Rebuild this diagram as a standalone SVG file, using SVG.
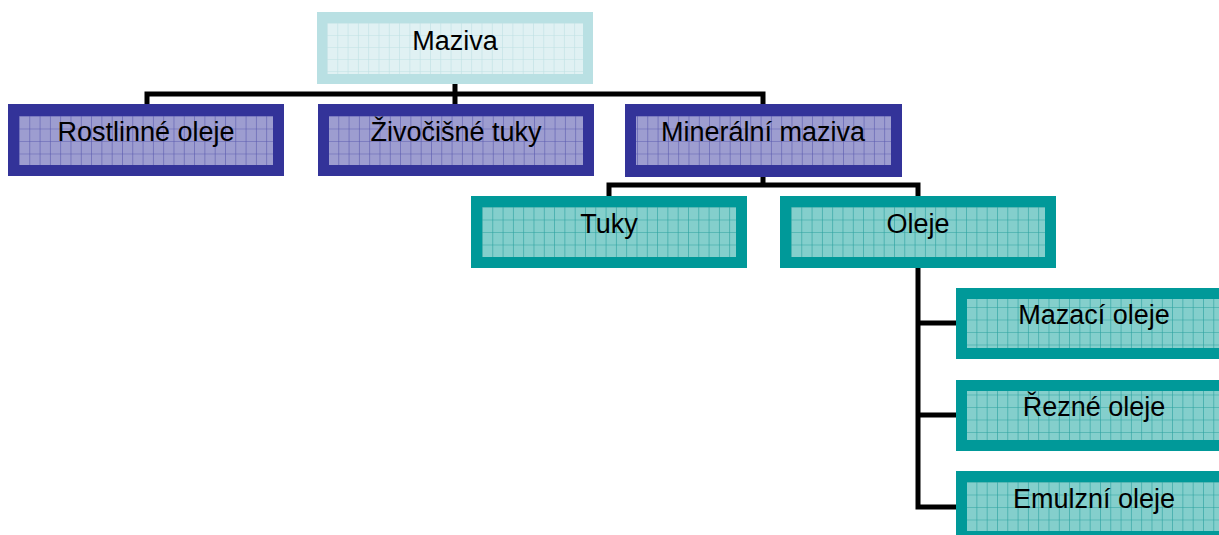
<svg xmlns="http://www.w3.org/2000/svg" width="1219" height="535" viewBox="0 0 1219 535">
  <defs>
    <!-- grid textures for the inner panels -->
    <pattern id="gridLight" patternUnits="userSpaceOnUse" width="10.3" height="12" x="327" y="23">
      <rect width="10.3" height="12" fill="#e0f1f3"/>
      <path d="M0 0V12M0 0H10.3" stroke="#bfe1e4" stroke-width="1.2" fill="none"/>
    </pattern>
    <pattern id="gridNavy" patternUnits="userSpaceOnUse" width="10.3" height="12.5" x="19" y="116">
      <rect width="10.3" height="12.5" fill="#9d9dd0"/>
      <path d="M0 0V12.5M0 0H10.3" stroke="#5b5bb0" stroke-width="1.2" fill="none"/>
    </pattern>
    <pattern id="gridTeal" patternUnits="userSpaceOnUse" width="10.3" height="12.5" x="482" y="207">
      <rect width="10.3" height="12.5" fill="#84cfcc"/>
      <path d="M0 0V12.5M0 0H10.3" stroke="#2aa19f" stroke-width="1.2" fill="none"/>
    </pattern>
  </defs>
  <style>
    .lbl { font-family: "Liberation Sans", Arial, sans-serif; font-size: 27px; fill: #000; text-anchor: middle; }
    .conn { stroke: #000; stroke-width: 5; fill: none; stroke-linejoin: miter; stroke-linecap: square; }
    .top-o { fill: #b9e0e3; }
    .top-i { fill: url(#gridLight); }
    .navy-o { fill: #333399; }
    .navy-i { fill: url(#gridNavy); }
    .teal-o { fill: #009999; }
    .teal-i { fill: url(#gridTeal); }
  </style>

  <!-- connectors -->
  <g id="connectors">
    <path class="conn" d="M455 84V104M147 104V94H763V104"/>
    <path class="conn" d="M763 177V185M609 196V185H918V196"/>
    <path class="conn" d="M918 268V507H956M918 323H956M918 415H956"/>
  </g>

  <g id="maziva">
    <rect class="top-o" x="317" y="12" width="276" height="72"/>
    <rect class="top-i" x="327" y="23" width="256" height="51"/>
    <text class="lbl" x="455" y="50">Maziva</text>
  </g>

  <g id="rostlinne-oleje">
    <rect class="navy-o" x="8" y="104" width="276" height="72"/>
    <rect class="navy-i" x="19" y="116" width="254" height="49"/>
    <text class="lbl" x="146" y="141">Rostlinné oleje</text>
  </g>

  <g id="zivocisne-tuky">
    <rect class="navy-o" x="318" y="104" width="276" height="72"/>
    <rect class="navy-i" x="329" y="116" width="254" height="49"/>
    <text class="lbl" x="456" y="141">Živočišné tuky</text>
  </g>

  <g id="mineralni-maziva">
    <rect class="navy-o" x="625" y="104" width="277" height="73"/>
    <rect class="navy-i" x="636" y="116" width="255" height="49"/>
    <text class="lbl" x="763" y="141">Minerální maziva</text>
  </g>

  <g id="tuky">
    <rect class="teal-o" x="471" y="196" width="276" height="72"/>
    <rect class="teal-i" x="482" y="207" width="254" height="50"/>
    <text class="lbl" x="609" y="233">Tuky</text>
  </g>

  <g id="oleje">
    <rect class="teal-o" x="780" y="196" width="276" height="72"/>
    <rect class="teal-i" x="791" y="207" width="254" height="50"/>
    <text class="lbl" x="918" y="233">Oleje</text>
  </g>

  <g id="mazaci-oleje">
    <rect class="teal-o" x="956" y="288" width="276" height="71"/>
    <rect class="teal-i" x="967" y="299" width="254" height="49"/>
    <text class="lbl" x="1094" y="324">Mazací oleje</text>
  </g>

  <g id="rezne-oleje">
    <rect class="teal-o" x="956" y="380" width="276" height="71"/>
    <rect class="teal-i" x="967" y="391" width="254" height="49"/>
    <text class="lbl" x="1094" y="416">Řezné oleje</text>
  </g>

  <g id="emulzni-oleje">
    <rect class="teal-o" x="956" y="471" width="276" height="71"/>
    <rect class="teal-i" x="967" y="482" width="254" height="49"/>
    <text class="lbl" x="1094" y="508">Emulzní oleje</text>
  </g>
</svg>
